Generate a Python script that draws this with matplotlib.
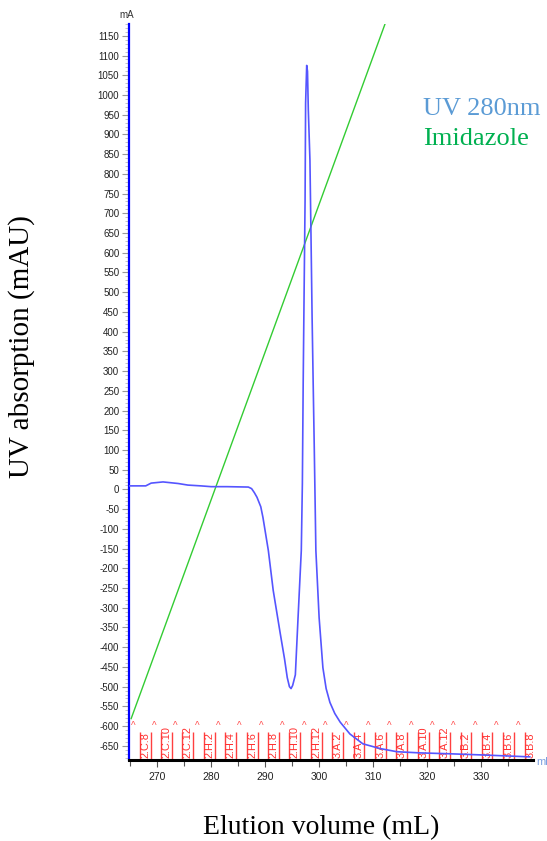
import matplotlib
matplotlib.use("Agg")
import matplotlib.pyplot as plt
from matplotlib.ticker import MultipleLocator

plt.rcParams["axes.unicode_minus"] = False

# ==========================
# data
# ==========================
uv_volume = [264.8, 266.0, 267.9, 268.9, 271.1, 273.9, 275.7, 278.1, 280.0, 283.0,
             286.9, 287.5, 288.0, 288.5, 289.2, 289.6, 290.6, 291.5, 292.8, 293.6,
             294.1, 294.5, 294.8, 295.1, 295.6, 296.1, 296.7, 296.9, 297.05, 297.2,
             297.4, 297.5, 297.7, 297.85, 298.0, 298.3, 298.5, 298.7, 298.9, 299.1,
             299.4, 300.0, 300.7, 301.3, 302.0, 302.9, 303.9, 305.7, 308.1, 311.3,
             314.4, 318.7, 323.7, 329.8, 339.0]
uv_mau = [9, 9, 9, 16, 19, 15, 11, 9, 7, 7,
          6, 2, -8, -20, -44, -71, -155, -256, -365, -430,
          -477, -500, -505, -497, -470, -325, -155, 15, 270, 472,
          733, 980, 1075, 1060, 962, 835, 640, 437, 269, 107,
          -155, -325, -452, -505, -540, -568, -590, -620, -645, -657,
          -665, -668, -670, -673, -678]

# imidazole gradient, drawn in the same units as the UV trace
imid_volume = [265.2, 312.2]
imid_level = [-581, 1180]

fraction_edges = [266.8, 268.8, 270.8, 272.7, 274.7, 276.7, 278.7, 280.7, 282.6, 284.6,
                  286.6, 288.6, 290.6, 292.5, 294.5, 296.5, 298.5, 300.5, 302.4, 304.4,
                  306.4, 308.4, 310.4, 312.3, 314.3, 316.3, 318.3, 320.3, 322.2, 324.2,
                  326.2, 328.2, 330.2, 332.1, 334.1, 336.1, 338.1, 340.1]
fraction_labels = ["2.C.8", "2.C.10", "2.C.12", "2.H.2", "2.H.4", "2.H.6", "2.H.8",
                   "2.H.10", "2.H.12", "3.A.2", "3.A.4", "3.A.6", "3.A.8", "3.A.10",
                   "3.A.12", "3.B.2", "3.B.4", "3.B.6", "3.B.8"]
caret_volume = [265.5, 269.5, 273.4, 277.4, 281.3, 285.3, 289.3, 293.2, 297.2, 301.1,
                305.1, 309.1, 313.0, 317.0, 320.9, 324.9, 328.9, 332.8, 336.8]

# ==========================
# figure
# ==========================
fig = plt.figure(figsize=(5.47, 8.41), dpi=100)
ax = fig.add_axes([129 / 547, 81 / 841, 404 / 547, 736 / 841])

ax.set_xlim(264.8, 339.6)
ax.set_ylim(-686, 1180)

# fraction marks
ax.vlines(fraction_edges, -686, -615, color="#ff4040", linewidth=1, zorder=2)
for i, lab in enumerate(fraction_labels):
    x = (fraction_edges[2 * i] + fraction_edges[2 * i + 1]) / 2
    ax.text(x, -682, lab, rotation=90, ha="center", va="bottom",
            fontsize=7.8, color="#ff3030", family="Liberation Sans", zorder=2)
for x in caret_volume:
    ax.text(x, -600, "^", ha="center", va="center", fontsize=7,
            color="#ff5050", family="Liberation Sans", zorder=2)

ax.plot(imid_volume, imid_level, color="#33cc33", linewidth=1, zorder=3)
ax.plot(uv_volume, uv_mau, color="#5555ff", linewidth=1.2, zorder=4)

# axes styling
for side in ["top", "right"]:
    ax.spines[side].set_visible(False)
ax.spines["left"].set_color("#0000ff")
ax.spines["left"].set_linewidth(1.6)
ax.spines["bottom"].set_color("black")
ax.spines["bottom"].set_linewidth(2.2)

ax.yaxis.set_minor_locator(MultipleLocator(10))
ax.xaxis.set_minor_locator(MultipleLocator(5))
ax.set_xticks([270, 280, 290, 300, 310, 320, 330])
ax.set_yticks(range(-650, 1151, 50))

ax.tick_params(axis="y", which="major", length=5, width=0.8, color="#999999",
               labelsize=7, labelcolor="#222222", pad=2)
ax.tick_params(axis="y", which="minor", length=3, width=0.6, color="#bbbbbb")
ax.tick_params(axis="x", which="major", length=5, width=0.8, color="#555555",
               labelsize=7.5, labelcolor="#222222", pad=4)
ax.tick_params(axis="x", which="minor", length=4, width=0.8, color="#555555")
for lab in ax.get_xticklabels() + ax.get_yticklabels():
    lab.set_family("Liberation Sans")

# small unit labels from the instrument software
fig.text(119 / 547, 1 - 15 / 841, "mA", fontsize=7, color="#333333",
         family="Liberation Sans", va="center", ha="left")
fig.text(536 / 547, 1 - 762 / 841, "ml", fontsize=8, color="#7ca0e0",
         family="Liberation Sans", va="center", ha="left")

# legend text
fig.text(423 / 547, 1 - 115 / 841, "UV 280nm", fontsize=19, color="#5b9bd5",
         family="Liberation Serif", va="baseline", ha="left")
fig.text(423 / 547, 1 - 145 / 841, "Imidazole", fontsize=19, color="#00b050",
         family="Liberation Serif", va="baseline", ha="left")

# axis titles
fig.text(321 / 547, 1 - 828 / 841, "Elution volume (mL)", fontsize=20,
         family="Liberation Serif", ha="center", va="center")
fig.text(22 / 547, 1 - 347 / 841, "UV absorption (mAU)", fontsize=21,
         family="Liberation Serif", rotation=90, ha="center", va="center")

fig.savefig("out.png", dpi=100)
